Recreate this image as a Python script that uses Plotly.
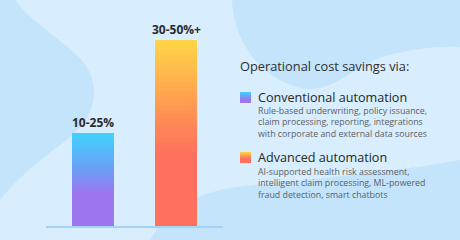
import plotly.graph_objects as go

# ---- data ----
categories = ["Conventional automation", "Advanced automation"]
values = [25, 50]
value_labels = ["10-25%", "30-50%+"]
title_text = "Operational cost savings via:"
descriptions = [
    ["Rule-based underwriting, policy issuance,", "claim processing, reporting, integrations",
     "with corporate and external data sources"],
    ["AI-supported health risk assessment,", "intelligent claim processing, ML-powered",
     "fraud detection, smart chatbots"],
]
# gradient stops (fraction from bottom, colour)
gradients = [
    [(0.0, (157, 118, 238)), (0.35, (157, 118, 238)), (0.62, (106, 160, 245)), (1.0, (64, 210, 253))],
    [(0.0, (255, 112, 94)), (0.38, (255, 112, 94)), (0.56, (255, 138, 86)), (0.76, (255, 174, 78)), (1.0, (255, 213, 70))],
]

W, H = 460, 240
N = 40


def interp(stops, t):
    for (t0, c0), (t1, c1) in zip(stops[:-1], stops[1:]):
        if t <= t1:
            f = 0 if t1 == t0 else (t - t0) / (t1 - t0)
            return "rgb(%d,%d,%d)" % tuple(round(a + (b - a) * f) for a, b in zip(c0, c1))
    return "rgb(%d,%d,%d)" % stops[-1][1]


fig = go.Figure()

# stacked segments -> vertical gradient bars
for k in range(N):
    t = (k + 0.5) / N
    fig.add_trace(go.Bar(
        x=[0, 1],
        y=[v / N for v in values],
        marker=dict(color=[interp(g, t) for g in gradients], line=dict(width=0)),
        width=0.506,
        showlegend=False,
        hoverinfo="skip",
    ))

# legend keys on a pixel-space helper subplot
key_x = 240
key_tops = [92, 152]
for g, top in zip(gradients, key_tops):
    cs = [[s, "rgb(%d,%d,%d)" % c] for s, c in g]
    fig.add_trace(go.Scatter(
        x=[key_x, key_x + 11, key_x + 11, key_x, key_x],
        y=[top + 11, top + 11, top, top, top + 11],
        mode="lines", line=dict(width=0), fill="toself",
        fillgradient=dict(type="vertical", colorscale=cs,
                          start=top + 11, stop=top),
        xaxis="x2", yaxis="y2", showlegend=False, hoverinfo="skip",
    ))


def P(pts):
    out = []
    for p in pts:
        if isinstance(p, str):
            out.append(p)
        else:
            out.append("%.4f,%.4f" % (p[0] / W, 1 - p[1] / H))
    return " ".join(out)


blob = "rgb(195,228,251)"
shapes = [
    dict(type="path", xref="paper", yref="paper", layer="below", line=dict(width=0), fillcolor=blob,
         path=P(["M", (0, 0), "L", (15, 0), "C", (30, 20), (50, 32), (65, 45), "C", (85, 60), (95, 75), (94, 95),
                 "C", (93, 115), (80, 130), (60, 145), "C", (40, 160), (15, 180), (0, 200), "Z"])),
    dict(type="path", xref="paper", yref="paper", layer="below", line=dict(width=0), fillcolor=blob,
         path=P(["M", (232, 0), "C", (233, 40), (260, 78), (300, 88), "C", (330, 94), (350, 70), (380, 58),
                 "C", (410, 48), (440, 46), (460, 47), "L", (460, 0), "Z"])),
    dict(type="path", xref="paper", yref="paper", layer="below", line=dict(width=0), fillcolor=blob,
         path=P(["M", (150, 240), "C", (165, 215), (190, 195), (230, 188), "C", (290, 180), (380, 175), (460, 160),
                 "L", (460, 240), "Z"])),
]

annotations = []
for i, (v, lab) in enumerate(zip(values, value_labels)):
    annotations.append(dict(x=i, y=v, xref="x", yref="y", text="<b>%s</b>" % lab, showarrow=False,
                            yanchor="bottom", yshift=0,
                            font=dict(family="Open Sans", size=12, color="#2b2b2b")))

annotations.append(dict(x=238 / W, y=1 - 65.5 / H, xref="paper", yref="paper", text=title_text, showarrow=False,
                        xanchor="left", yanchor="middle", font=dict(family="Open Sans", size=12.8, color="#2f2f2f")))
head_y = [97, 157]
desc_y = [123, 183]
for name, lines, hy, dy in zip(categories, descriptions, head_y, desc_y):
    annotations.append(dict(x=256 / W, y=1 - hy / H, xref="paper", yref="paper", text=name, showarrow=False,
                            xanchor="left", yanchor="middle",
                            font=dict(family="Open Sans", size=12.6, color="#262626")))
    annotations.append(dict(x=256 / W, y=1 - dy / H, xref="paper", yref="paper", text="<br>".join(lines),
                            showarrow=False, xanchor="left", yanchor="middle", align="left",
                            font=dict(family="Open Sans", size=8.8, color="#5b5f66")))

fig.update_layout(
    width=W, height=H,
    margin=dict(l=0, r=0, t=0, b=0),
    paper_bgcolor="rgb(216,237,253)",
    plot_bgcolor="rgba(0,0,0,0)",
    barmode="stack",
    bargap=0,
    xaxis=dict(domain=[46 / W, 223 / W], range=[-0.566, 1.566], showgrid=False, zeroline=False,
               showticklabels=False, ticks="", showline=True, linecolor="rgb(165,211,248)", linewidth=1.5,
               fixedrange=True),
    yaxis=dict(domain=[14 / H, 1], range=[0, 60.75], showgrid=False, zeroline=False, showticklabels=False,
               showline=False, fixedrange=True),
    xaxis2=dict(domain=[0, 1], range=[0, W], visible=False, anchor="y2", fixedrange=True),
    yaxis2=dict(domain=[0, 1], range=[H, 0], visible=False, anchor="x2", fixedrange=True),
    shapes=shapes,
    annotations=annotations,
    showlegend=False,
)

fig.write_html("out.html", config={"displayModeBar": False})
